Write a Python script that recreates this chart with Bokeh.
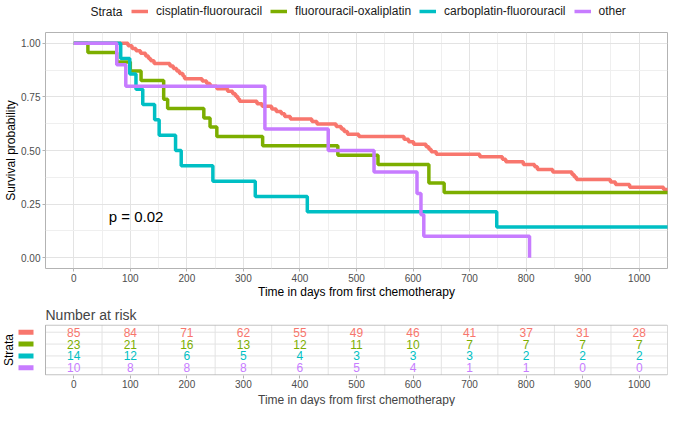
import math
from bokeh.plotting import figure
from bokeh.layouts import column, row
from bokeh.models import Range1d, FixedTicker, Legend, LegendItem, Title, NumeralTickFormatter
from bokeh.core.properties import value
from bokeh.embed import file_html
from bokeh.resources import INLINE

# ---------------- data ----------------
strata = ["cisplatin-fluorouracil", "fluorouracil-oxaliplatin", "carboplatin-fluorouracil", "other"]
colors = ["#F8766D", "#7CAE00", "#00BFC4", "#C77CFF"]

cis_time = [0, 96, 103, 110, 118, 127, 132, 136, 142, 170, 176, 182, 187, 193, 196, 227, 235, 241, 253,
            272, 281, 286, 290, 293, 324, 333, 350, 358, 367, 373, 383, 421, 430, 464, 473, 478, 484,
            504, 584, 592, 601, 623, 628, 632, 641, 718, 758, 764, 795, 815, 820, 847, 881, 885, 889,
            949, 958, 983, 1043, 1100]
cis_surv = [1.0, 0.988, 0.976, 0.965, 0.953, 0.941, 0.929, 0.918, 0.906, 0.894, 0.882, 0.871, 0.859,
            0.847, 0.835, 0.824, 0.812, 0.800, 0.788, 0.776, 0.765, 0.753, 0.741, 0.729, 0.718, 0.706,
            0.694, 0.682, 0.671, 0.659, 0.647, 0.635, 0.624, 0.612, 0.600, 0.588, 0.576, 0.565, 0.553,
            0.541, 0.529, 0.518, 0.506, 0.494, 0.482, 0.471, 0.459, 0.447, 0.435, 0.424, 0.412, 0.400,
            0.388, 0.376, 0.365, 0.353, 0.341, 0.329, 0.318, 0.318]

fo_time = [0, 25, 76, 100, 119, 159, 166, 230, 241, 253, 334, 467, 538, 628, 655, 1100]
fo_surv = [1.0, 0.957, 0.913, 0.870, 0.826, 0.739, 0.696, 0.652, 0.609, 0.565, 0.522, 0.478, 0.435,
           0.348, 0.304, 0.304]

cf_time = [0, 83, 99, 110, 122, 143, 151, 180, 190, 246, 321, 413, 748, 1100]
cf_surv = [1.0, 0.929, 0.857, 0.786, 0.714, 0.643, 0.571, 0.500, 0.429, 0.357, 0.286, 0.214, 0.143, 0.143]

oth_time = [0, 76, 92, 338, 450, 531, 607, 614, 619, 806]
oth_surv = [1.0, 0.9, 0.8, 0.6, 0.5, 0.4, 0.3, 0.2, 0.1, 0.0]

risk_times = [0, 100, 200, 300, 400, 500, 600, 700, 800, 900, 1000]
risk_cis = [85, 84, 71, 62, 55, 49, 46, 41, 37, 31, 28]
risk_fo = [23, 21, 16, 13, 12, 11, 10, 7, 7, 7, 7]
risk_cf = [14, 12, 6, 5, 4, 3, 3, 3, 2, 2, 2]
risk_oth = [10, 8, 8, 8, 6, 5, 4, 1, 1, 0, 0]

x_major = [0, 100, 200, 300, 400, 500, 600, 700, 800, 900, 1000]
x_minor = [50, 150, 250, 350, 450, 550, 650, 750, 850, 950]
y_major = [0, 0.25, 0.5, 0.75, 1.0]
y_minor = [0.125, 0.375, 0.625, 0.875]

pval_text = "p = 0.02"

# ---------------- layout constants ----------------
FONT = "Liberation Sans"
FIG_W = 669
MAIN_L, MAIN_R = 45, 2
TAB_L = 2
X0, X1 = -50, 1050
main_fw = FIG_W - MAIN_L - MAIN_R
px_per_day = main_fw / (X1 - X0)
tab_fw = FIG_W - TAB_L - MAIN_R
tab_x0 = X1 - tab_fw / px_per_day
GRID_MAJ = "#E3E3E3"
GRID_MIN = "#EFEFEF"
BORDER = "#B3B3B3"
LEG_H = 22


def style_axis(ax):
    ax.axis_line_color = None
    ax.major_tick_line_color = BORDER
    ax.major_tick_out = 3
    ax.major_tick_in = 0
    ax.minor_tick_line_color = None
    ax.major_label_text_font = FONT
    ax.major_label_text_font_size = "10px"
    ax.major_label_text_color = "#4D4D4D"
    ax.major_label_standoff = 1
    ax.axis_label_text_font = FONT
    ax.axis_label_text_font_size = "12px"
    ax.axis_label_text_font_style = "normal"
    ax.axis_label_text_color = "#000000"
    ax.axis_label_standoff = 0


# ---------------- legend strip (frame aligned with main frame) ----------------
leg = figure(width=FIG_W, height=LEG_H, x_range=Range1d(MAIN_L, FIG_W - MAIN_R), y_range=Range1d(0, LEG_H),
             x_axis_location=None, y_axis_location=None, output_backend="svg", toolbar_location=None,
             min_border_left=MAIN_L, min_border_right=MAIN_R, min_border_top=0, min_border_bottom=0)
leg.outline_line_color = None
leg.grid.visible = False
leg.background_fill_color = "white"
leg.border_fill_color = "white"
leg.text(x=[122], y=[LEG_H / 2], text=["Strata"], text_font=value(FONT), text_font_size=value("12px"),
         text_align="right", text_baseline="middle", text_color="#1A1A1A")
leg_rs = [leg.line(x=[-10, -5], y=[-10, -5], line_color=c, line_width=3.5) for c in colors]
items = [LegendItem(label=name, renderers=[r]) for name, r in zip(strata, leg_rs)]
legend = Legend(items=items, orientation="horizontal", location=(131 - MAIN_L, (LEG_H - 14) / 2), margin=0,
                padding=0, spacing=8, label_standoff=8, glyph_width=17, glyph_height=14, label_height=14,
                label_text_font=FONT, label_text_font_size="12px", label_text_color="#1A1A1A",
                border_line_color=None, background_fill_alpha=0)
leg.add_layout(legend)

# ---------------- main survival plot ----------------
main = figure(width=FIG_W, height=279, x_range=Range1d(X0, X1), y_range=Range1d(-0.05, 1.05),
              output_backend="svg", toolbar_location=None,
              min_border_left=MAIN_L, min_border_right=MAIN_R, min_border_top=10, min_border_bottom=0)
main.outline_line_color = BORDER
main.outline_line_width = 1
main.background_fill_color = "white"
main.border_fill_color = "white"

xt = FixedTicker(ticks=x_major, minor_ticks=x_minor)
yt = FixedTicker(ticks=y_major, minor_ticks=y_minor)
main.xaxis.ticker = xt
main.yaxis.ticker = yt
main.xgrid.ticker = xt
main.ygrid.ticker = yt
main.yaxis.formatter = NumeralTickFormatter(format="0.00")
main.xaxis.axis_label = "Time in days from first chemotherapy"
main.yaxis.axis_label = "Survival probability"
for ax in main.axis:
    style_axis(ax)
for g in (main.xgrid, main.ygrid):
    g.grid_line_color = GRID_MAJ
    g.grid_line_width = 1
    g.minor_grid_line_color = GRID_MIN
    g.minor_grid_line_width = 1

for t, s, c in zip([cis_time, fo_time, cf_time, oth_time],
                   [cis_surv, fo_surv, cf_surv, oth_surv], colors):
    main.step(t, s, mode="after", line_color=c, line_width=3.5)

main.text(x=[62], y=[0.194], text=[pval_text], text_font=value(FONT), text_font_size=value("15px"),
          text_align="left", text_baseline="middle", text_color="#000000")

# ---------------- risk table ----------------
tab = figure(width=FIG_W, height=105, x_range=Range1d(tab_x0, X1), y_range=Range1d(0.35, 4.65),
             y_axis_location=None, output_backend="svg", toolbar_location=None,
             min_border_left=TAB_L, min_border_right=MAIN_R, min_border_top=23, min_border_bottom=0)
tab.outline_line_color = None
tab.background_fill_color = "white"
tab.border_fill_color = "white"
tab.grid.visible = False
tab.title.text = "Number at risk"
tab.title.align = "left"
tab.title.offset = MAIN_L - TAB_L
tab.title.text_font = FONT
tab.title.text_font_size = "14px"
tab.title.text_font_style = "normal"
tab.title.standoff = 4

rows = [4, 3, 2, 1]
tab.quad(left=[X0], right=[X1], bottom=[0.4], top=[4.6], fill_color="white", line_color=None)
tab.segment(x0=x_minor, x1=x_minor, y0=[0.4] * len(x_minor), y1=[4.6] * len(x_minor),
            line_color=GRID_MAJ, line_width=1)
tab.segment(x0=[X0] * 4, x1=[X1] * 4, y0=rows, y1=rows, line_color=GRID_MAJ, line_width=1)
tab.quad(left=[X0], right=[X1], bottom=[0.4], top=[4.6], fill_color=None, line_color=BORDER, line_width=1)

for counts, c, rw in zip([risk_cis, risk_fo, risk_cf, risk_oth], colors, rows):
    tab.text(x=risk_times, y=[rw] * len(risk_times), text=[str(v) for v in counts], text_color=c,
             text_font=value(FONT), text_font_size=value("12px"), text_align="center",
             text_baseline="middle")

strata_x = tab_x0 + (8 - TAB_L) / px_per_day
bar_x = tab_x0 + (25.5 - TAB_L) / px_per_day
tab.text(x=[strata_x], y=[2.5], text=["Strata"], angle=math.pi / 2, text_font=value(FONT),
         text_font_size=value("12px"), text_align="center", text_baseline="middle", text_color="#000000")
tab.rect(x=[bar_x] * 4, y=rows, width=15, height=5, width_units="screen", height_units="screen",
         fill_color=colors, line_color=None)

tab.xaxis.ticker = FixedTicker(ticks=risk_times)
style_axis(tab.xaxis[0])
label_w = 197
xlab = Title(text="Time in days from first chemotherapy", align="left",
             offset=MAIN_L + main_fw / 2 - label_w / 2 - TAB_L, text_font=FONT, text_font_size="12px",
             text_font_style="normal", standoff=0)
tab.add_layout(xlab, "below")

layout = column(leg, main, row(tab))
open("out.html", "w").write(file_html(layout, INLINE))
